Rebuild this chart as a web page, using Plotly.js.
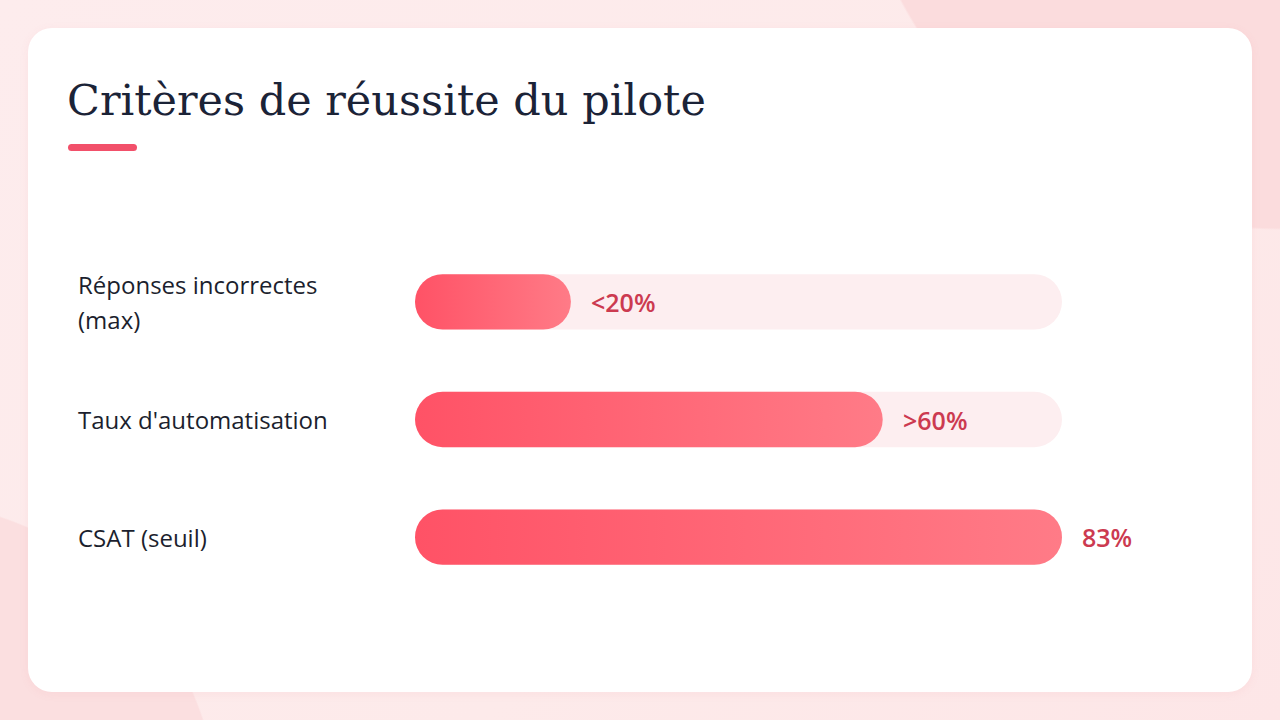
<!DOCTYPE html>
<html>
<head>
<meta charset="utf-8">
<script src="https://cdn.plot.ly/plotly-3.0.1.min.js"></script>
<style>
  html, body { margin: 0; padding: 0; }
  body {
    width: 1280px; height: 720px; overflow: hidden; position: relative;
    background:
      radial-gradient(circle 430px at 1280px -200px, #fbdcdd 99.5%, rgba(251,220,221,0) 100%),
      radial-gradient(circle 320px at -100px 820px, #fbdfe0 99.5%, rgba(251,223,224,0) 100%),
      linear-gradient(135deg, #fdeced 0%, #fdeaea 60%, #fde6e7 100%);
  }
  #card {
    position: absolute; left: 28px; top: 28px; width: 1224px; height: 664px;
    background: #fff; border-radius: 24px;
    box-shadow: 0 2px 10px rgba(230, 120, 130, 0.08);
  }
  #accent {
    position: absolute; left: 68px; top: 144px; width: 69px; height: 7px;
    background: #f2506a; border-radius: 4px;
  }
  #plot { position: absolute; left: 0; top: 0; width: 1280px; height: 720px; }
</style>
</head>
<body>
<div id="card"></div>
<div id="accent"></div>
<div id="plot"></div>
<script>
const chartTitle = "Critères de réussite du pilote";
const categories = ["Réponses incorrectes\n(max)", "Taux d'automatisation", "CSAT (seuil)"];
const values = [20, 60, 83];
const valueLabels = ["<20%", ">60%", "83%"];
const scaleMax = 83;

const labelFont = { family: "'Open Sans', Lato, sans-serif", size: 24, color: "#1c1f2e", weight: 500 };
const valueFont = { family: "'Open Sans', Lato, sans-serif", size: 25, color: "#cc3a50", weight: 600 };

const track = {
	type: "bar",
	orientation: "h",
	y: categories,
	x: categories.map(() => scaleMax),
	width: 0.47,
	marker: { color: "#fdeef0" },
	hoverinfo: "skip",
};

const bars = {
	type: "bar",
	orientation: "h",
	y: categories,
	x: values,
	width: 0.47,
	marker: { color: "#ff6474" },
	hoverinfo: "skip",
};

// labels on the left, one annotation per text line
const annotations = [];
categories.forEach((cat, i) => {
	const lines = cat.split("\n");
	lines.forEach((line, j) => {
		annotations.push({
			xref: "paper",
			yref: "y",
			x: (76 - 415) / 647,
			y: cat,
			xanchor: "left",
			yanchor: "middle",
			yshift: ((lines.length - 1) / 2 - j) * 35,
			text: line,
			showarrow: false,
			font: labelFont,
		});
	});
	annotations.push({
		xref: "x",
		yref: "y",
		x: values[i],
		y: cat,
		xanchor: "left",
		yanchor: "middle",
		xshift: 18,
		text: valueLabels[i].replace("<", "&lt;").replace(">", "&gt;"),
		showarrow: false,
		font: valueFont,
	});
});

const layout = {
	width: 1280,
	height: 720,
	margin: { l: 415, r: 218, t: 243, b: 124 },
	paper_bgcolor: "rgba(0,0,0,0)",
	plot_bgcolor: "rgba(0,0,0,0)",
	barmode: "overlay",
	showlegend: false,
	title: {
		text: chartTitle,
		xref: "container",
		yref: "container",
		x: 67 / 1280,
		xanchor: "left",
		y: 1 - 100 / 720,
		yanchor: "middle",
		font: { family: "'DejaVu Serif', 'Liberation Serif', serif", size: 43, color: "#1b2337" },
	},
	xaxis: {
		range: [0, scaleMax],
		showgrid: false,
		zeroline: false,
		showticklabels: false,
		fixedrange: true,
	},
	yaxis: {
		type: "category",
		autorange: "reversed",
		showgrid: false,
		zeroline: false,
		showticklabels: false,
		fixedrange: true,
	},
	annotations: annotations,
};

function pill(p) {
	const b = p.getBBox();
	const r = Math.min(b.height / 2, b.width / 2);
	const x0 = b.x, x1 = b.x + b.width, y0 = b.y, y1 = b.y + b.height;
	return `M${x0 + r},${y0}H${x1 - r}A${r},${r} 0 0 1 ${x1 - r},${y1}H${x0 + r}A${r},${r} 0 0 1 ${x0 + r},${y0}Z`;
}

Plotly.newPlot("plot", [track, bars], layout, { displayModeBar: false, staticPlot: true }).then((gd) => {
	const svg = gd.querySelector(".main-svg");
	const ns = "http://www.w3.org/2000/svg";
	let defs = svg.querySelector("defs");
	if (!defs) {
		defs = document.createElementNS(ns, "defs");
		svg.insertBefore(defs, svg.firstChild);
	}
	// horizontal gradient for the value bars
	const grad = document.createElementNS(ns, "linearGradient");
	grad.setAttribute("id", "barGrad");
	grad.setAttribute("x1", "0");
	grad.setAttribute("x2", "1");
	grad.setAttribute("y1", "0");
	grad.setAttribute("y2", "0");
	[["0%", "#ff5266"], ["100%", "#ff7b87"]].forEach(([off, col]) => {
		const stop = document.createElementNS(ns, "stop");
		stop.setAttribute("offset", off);
		stop.setAttribute("stop-color", col);
		grad.appendChild(stop);
	});
	defs.appendChild(grad);

	// round both ends of every bar
	const traces = gd.querySelectorAll(".barlayer .trace");
	traces.forEach((t, k) => {
		t.querySelectorAll("path").forEach((p) => {
			p.setAttribute("d", pill(p));
			if (k === traces.length - 1) p.style.fill = "url(#barGrad)";
		});
	});
});
</script>
</body>
</html>
